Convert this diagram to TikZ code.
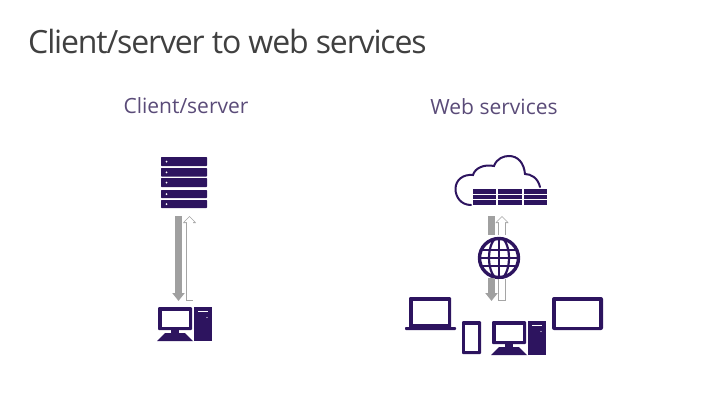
\documentclass[tikz,border=0pt]{standalone}
\usepackage{fontspec}
\setmainfont{Open Sans}
\newfontfamily\headfont[LetterSpace=-3.6]{Open Sans}
\usepackage{xcolor}
\usetikzlibrary{arrows.meta,calc}
\definecolor{iconPurple}{RGB}{45,20,95}
\definecolor{titleGray}{RGB}{64,64,64}
\definecolor{subPurple}{RGB}{90,75,120}
\definecolor{arrGray}{RGB}{160,160,160}
\definecolor{rimGray}{RGB}{165,165,165}

\begin{document}
\begin{tikzpicture}[
  x=1pt, y=-1pt,
  iconbox/.style={inner sep=0pt, minimum width=#1, outer sep=0pt},
  solid/.style={fill=iconPurple, draw=none},
  hole/.style={fill=white, draw=none},
  downarr/.style={arrGray, line width=7pt,
                  -{Triangle[width=12pt,length=8pt]}},
  uprim/.style={rimGray, line width=7.6pt,
                -{Triangle[width=13pt,length=7pt]}},
  upcore/.style={white, line width=6pt,
                 -{Triangle[width=10pt,length=5.2pt]}},
  headline/.style={font=\headfont\fontsize{32}{36}\selectfont, text=titleGray, inner sep=0pt},
  subhead/.style={font=\fontsize{21}{25}\selectfont, text=subPurple, inner sep=0pt}
]
  \useasboundingbox (0,0) rectangle (720,405);

  \node[headline, anchor=west] (title) at (28,41) {Client/server to web services};
  \node[subhead] (leftHead) at (186,106) {Client/server};
  \node[subhead] (rightHead) at (494,107) {Web services};

  % Named boxes of the icons
  \node[iconbox=46pt, minimum height=51pt] (server) at (184,182.5) {};
  \node[iconbox=55pt, minimum height=34pt] (client) at (185,324) {};
  \node[iconbox=86pt, minimum height=50pt] (cloud) at (499,180) {};
  \node[circle, draw=iconPurple, line width=3.4pt, minimum size=39pt, inner sep=0pt] (globe) at (499,258) {};

  % Server rack
  \foreach \ya/\yb in {157/166, 168/176.5, 178/187, 190/198, 200/208}{
    \fill[solid, rounded corners=.6pt] (161,\ya) rectangle (207,\yb);
    \fill[hole] (166.5,{(\ya+\yb)/2}) circle (1pt);
  }

  % Desktop computers
  \foreach \dx/\dy in {158/307, 492/321}{
    \begin{scope}[shift={(\dx,\dy)}]
      \fill[solid, rounded corners=1pt] (0,0) rectangle (34,23);
      \fill[hole] (3.5,3.5) rectangle (30.5,19.5);
      \fill[solid] (13,23) rectangle (21,27);
      \fill[solid] (7,26) -- (27,26) -- (35,34) -- (-1,34) -- cycle;
      \fill[solid] (36,0) rectangle (54,34);
      \fill[hole] (39.5,4) rectangle (49.5,5);
      \fill[hole] (49,10.5) circle (.6pt);
    \end{scope}
  }

  % Cloud with three servers
  \draw[iconPurple, line width=2pt, line cap=round]
    (471,205) .. controls (461,205) and (455.5,197) .. (455.5,189)
    .. controls (455.5,180) and (463,174) .. (473,175)
    .. controls (475,168) and (484,164) .. (494,166)
    .. controls (497,158) and (504,156) .. (509,156)
    .. controls (518,156) and (524,163) .. (525,174)
    .. controls (531,174) and (538,178) .. (540,187);
  \foreach \xa/\xb in {473/496, 498/522, 524/547}{
    \fill[solid] (\xa,189) rectangle (\xb,205);
    \fill[hole] (\xa,193.8) rectangle (\xb,194.8);
    \fill[hole] (\xa,199.2) rectangle (\xb,200.2);
  }

  % Globe lines
  \begin{scope}
    \clip (globe) circle (19.5);
    \draw[iconPurple, line width=2.2pt] (globe) ellipse (10 and 21);
    \draw[iconPurple, line width=2.2pt] (globe.north) -- (globe.south);
    \foreach \gy in {-8,0,8}
      \draw[iconPurple, line width=2.2pt] (478,258+\gy) -- (520,258+\gy);
  \end{scope}

  % Laptop
  \fill[solid, rounded corners=1pt] (409,297) rectangle (451,328);
  \fill[hole] (413,300.5) rectangle (447.5,324);
  \fill[solid, rounded corners=.8pt] (405,327) rectangle (456,330);
  % Phone
  \fill[solid, rounded corners=1pt] (462,321) rectangle (481,354);
  \fill[hole] (465,324.5) rectangle (478,350.5);
  % Tablet
  \fill[solid, rounded corners=2pt] (552,297) rectangle (603,330);
  \fill[hole] (556,301) rectangle (599,326.5);

  % Free ends of the lower arrows
  \coordinate (devDown) at (491.5,301);
  \coordinate (devUp) at (502,300.5);

  % Connectors
  \draw[downarr, shorten <=8pt, shorten >=6pt] ([xshift=-5.5pt]server.south) -- ([xshift=-6.5pt]client.north);
  \draw[uprim, shorten <=6pt, shorten >=8pt] ([xshift=4.5pt]client.north) -- ([xshift=5.5pt]server.south);
  \draw[upcore, shorten <=6.8pt, shorten >=9pt] ([xshift=4.5pt]client.north) -- ([xshift=5.5pt]server.south);

  \draw[arrGray, line width=7pt, shorten <=11pt, shorten >=2pt] ([xshift=-7.5pt]cloud.south) -- ([xshift=-7.5pt]globe.north);
  \draw[uprim, shorten <=2pt, shorten >=11pt] ([xshift=3pt]globe.north) -- ([xshift=3pt]cloud.south);
  \draw[upcore, shorten <=1.5pt, shorten >=12pt] ([xshift=3pt]globe.north) -- ([xshift=3pt]cloud.south);

  \draw[downarr] ([xshift=-7.5pt,yshift=1pt]globe.south) -- (devDown);
  \draw[rimGray, line width=7.6pt] ([xshift=3pt]globe.south) -- (devUp);
  \draw[white, line width=6pt, shorten >=.8pt] ([xshift=3pt]globe.south) -- (devUp);
\end{tikzpicture}
\end{document}
